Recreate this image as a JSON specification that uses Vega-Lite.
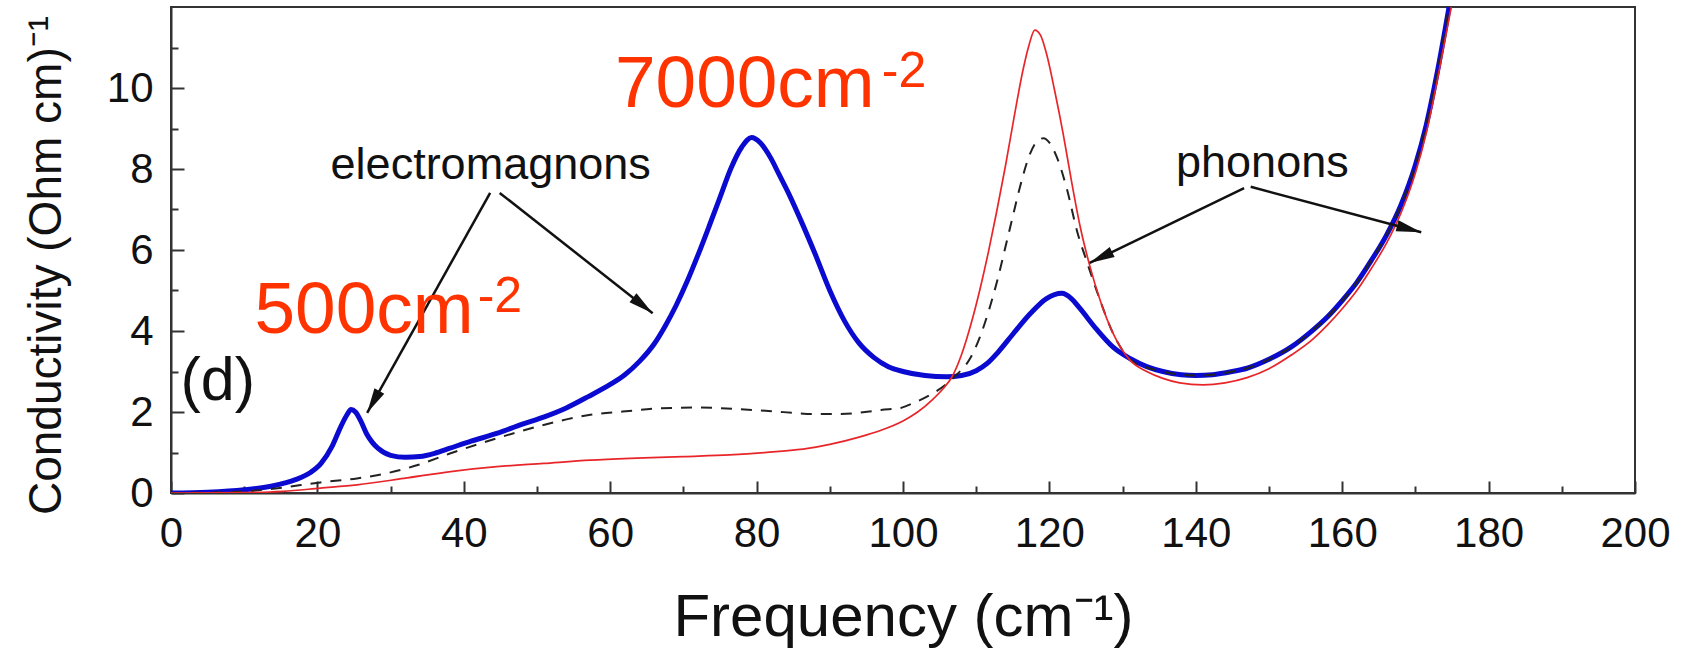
{
  "$schema": "https://vega.github.io/schema/vega-lite/v6.json",
  "width": 1464,
  "height": 486,
  "autosize": {"type": "none"},
  "padding": {"left": 171, "top": 7, "right": 51, "bottom": 162},
  "background": "white",
  "config": {
    "view": {"stroke": "#333", "strokeWidth": 2},
    "font": "Liberation Sans",
    "axis": {"grid": false, "domainColor": "#333", "domainWidth": 2, "tickColor": "#333", "tickWidth": 2, "labelFont": "Liberation Sans", "titleFont": "Liberation Sans", "labelColor": "#111", "titleColor": "#111", "titleFontWeight": "normal", "labelFlush": false}
  },
  "datasets": {
    "blue": [
      {"f":0,"s":0},{"f":5,"s":0.02},{"f":10,"s":0.08},{"f":14,"s":0.18},{"f":17,"s":0.33},{"f":19,"s":0.5},{"f":20.5,"s":0.73},{"f":22,"s":1.15},{"f":23.2,"s":1.64},{"f":24,"s":1.92},{"f":24.6,"s":2.06},{"f":25.2,"s":2.0},{"f":26,"s":1.75},{"f":26.7,"s":1.47},{"f":27.5,"s":1.25},{"f":28.3,"s":1.1},{"f":30,"s":0.93},{"f":32,"s":0.88},{"f":34,"s":0.9},{"f":36,"s":0.98},{"f":38,"s":1.1},{"f":41,"s":1.28},{"f":44.5,"s":1.47},{"f":48,"s":1.7},{"f":51,"s":1.88},{"f":54,"s":2.1},{"f":57,"s":2.38},{"f":60,"s":2.68},{"f":62,"s":2.92},{"f":64,"s":3.25},{"f":66,"s":3.68},{"f":67.5,"s":4.12},{"f":69,"s":4.63},{"f":70.5,"s":5.22},{"f":72,"s":5.88},{"f":73.5,"s":6.58},{"f":75,"s":7.3},{"f":76.5,"s":8.02},{"f":78,"s":8.55},{"f":79.3,"s":8.78},{"f":80.5,"s":8.65},{"f":82,"s":8.25},{"f":83,"s":7.89},{"f":84.5,"s":7.35},{"f":86,"s":6.75},{"f":88,"s":5.9},{"f":90,"s":5.0},{"f":92,"s":4.25},{"f":94,"s":3.7},{"f":96,"s":3.35},{"f":98,"s":3.12},{"f":100,"s":3.0},{"f":103,"s":2.9},{"f":106,"s":2.87},{"f":108,"s":2.9},{"f":110,"s":3.02},{"f":111.5,"s":3.2},{"f":113,"s":3.48},{"f":115,"s":3.92},{"f":117.4,"s":4.43},{"f":119.6,"s":4.8},{"f":121.7,"s":4.93},{"f":123,"s":4.8},{"f":124.2,"s":4.55},{"f":126.4,"s":4.05},{"f":128.7,"s":3.6},{"f":131,"s":3.32},{"f":133.3,"s":3.12},{"f":135.5,"s":3.0},{"f":138,"s":2.92},{"f":140,"s":2.9},{"f":142.3,"s":2.92},{"f":145,"s":3.0},{"f":147,"s":3.08},{"f":150,"s":3.3},{"f":153,"s":3.6},{"f":156,"s":4.02},{"f":158,"s":4.35},{"f":160,"s":4.75},{"f":162,"s":5.2},{"f":164,"s":5.75},{"f":166,"s":6.35},{"f":168,"s":7.1},{"f":170,"s":8.1},{"f":171.5,"s":9.1},{"f":173,"s":10.4},{"f":174.6,"s":12}
    ],
    "red": [
      {"f":0,"s":0},{"f":10,"s":0.01},{"f":15.3,"s":0.04},{"f":20.4,"s":0.12},{"f":25.4,"s":0.2},{"f":31.8,"s":0.36},{"f":38.2,"s":0.53},{"f":44.5,"s":0.65},{"f":50.9,"s":0.73},{"f":57.3,"s":0.81},{"f":63.6,"s":0.86},{"f":70,"s":0.9},{"f":76.3,"s":0.94},{"f":82.7,"s":1.02},{"f":87,"s":1.1},{"f":90,"s":1.2},{"f":94,"s":1.38},{"f":97,"s":1.55},{"f":100,"s":1.78},{"f":102,"s":2.0},{"f":104,"s":2.3},{"f":105.5,"s":2.58},{"f":106.7,"s":2.87},{"f":108,"s":3.42},{"f":109.3,"s":4.18},{"f":110.5,"s":5.02},{"f":111.7,"s":5.98},{"f":112.8,"s":6.95},{"f":114,"s":8.08},{"f":115.1,"s":9.2},{"f":116.4,"s":10.45},{"f":117.2,"s":11.05},{"f":118,"s":11.43},{"f":118.8,"s":11.3},{"f":119.6,"s":10.85},{"f":120.7,"s":9.95},{"f":121.9,"s":8.85},{"f":123,"s":7.72},{"f":124.2,"s":6.58},{"f":125.5,"s":5.62},{"f":127,"s":4.72},{"f":128.7,"s":3.94},{"f":131,"s":3.28},{"f":133.3,"s":3.0},{"f":135.5,"s":2.83},{"f":137.8,"s":2.72},{"f":141,"s":2.67},{"f":144,"s":2.72},{"f":147,"s":2.85},{"f":150,"s":3.07},{"f":153,"s":3.4},{"f":156,"s":3.8},{"f":158,"s":4.15},{"f":160,"s":4.55},{"f":162,"s":5.0},{"f":164,"s":5.55},{"f":166,"s":6.15},{"f":168,"s":6.9},{"f":170,"s":7.9},{"f":171.5,"s":8.9},{"f":173,"s":10.2},{"f":174.9,"s":12}
    ],
    "dashed": [
      {"f":0,"s":0},{"f":5,"s":0.01},{"f":10,"s":0.04},{"f":14.6,"s":0.12},{"f":20.4,"s":0.26},{"f":25.4,"s":0.36},{"f":29.3,"s":0.48},{"f":33.7,"s":0.69},{"f":38.2,"s":0.98},{"f":44.5,"s":1.35},{"f":50.9,"s":1.68},{"f":57.3,"s":1.93},{"f":61.7,"s":2.01},{"f":66.8,"s":2.09},{"f":71.9,"s":2.11},{"f":77.6,"s":2.07},{"f":82.7,"s":2.01},{"f":85,"s":1.98},{"f":87.8,"s":1.95},{"f":91,"s":1.95},{"f":95.4,"s":2.01},{"f":97,"s":2.05},{"f":99.7,"s":2.1},{"f":101.4,"s":2.22},{"f":103.7,"s":2.42},{"f":106,"s":2.7},{"f":107.5,"s":2.95},{"f":109.1,"s":3.3},{"f":110.5,"s":3.85},{"f":111.8,"s":4.55},{"f":113,"s":5.33},{"f":114,"s":6.08},{"f":115,"s":6.83},{"f":115.9,"s":7.5},{"f":117.3,"s":8.35},{"f":118.3,"s":8.68},{"f":119.2,"s":8.76},{"f":120,"s":8.65},{"f":121,"s":8.3},{"f":122.4,"s":7.5},{"f":123.8,"s":6.45},{"f":125.1,"s":5.72},{"f":127,"s":4.72},{"f":128.7,"s":3.94},{"f":131,"s":3.3},{"f":133.3,"s":3.1},{"f":135.5,"s":3.0},{"f":138,"s":2.92},{"f":140,"s":2.9},{"f":142.3,"s":2.92},{"f":145,"s":3.0},{"f":147,"s":3.08},{"f":150,"s":3.3},{"f":153,"s":3.6},{"f":156,"s":4.02},{"f":158,"s":4.35},{"f":160,"s":4.75},{"f":162,"s":5.2},{"f":164,"s":5.75},{"f":166,"s":6.35},{"f":168,"s":7.1},{"f":170,"s":8.1},{"f":171.5,"s":9.1},{"f":173,"s":10.4},{"f":174.6,"s":12}
    ],
    "arrows": [
      {"x":43.6,"y":7.41,"x2":26.8,"y2":1.98},
      {"x":44.9,"y":7.41,"x2":65.8,"y2":4.44},
      {"x":146.6,"y":7.53,"x2":125.5,"y2":5.68},
      {"x":147.5,"y":7.56,"x2":170.8,"y2":6.44}
    ]
  },
  "layer": [
    {
      "data": {"name": "blue"},
      "mark": {"type": "line", "color": "#0a0ad0", "strokeWidth": 5, "interpolate": "monotone", "clip": true},
      "encoding": {
        "x": {"field": "f", "type": "quantitative", "scale": {"domain": [0, 200], "nice": false, "zero": false},
          "axis": {"orient": "bottom", "values": [0,20,40,60,80,100,120,140,160,180,200], "tickSize": -12, "labelPadding": 32, "labelFontSize": 42, "title": "Frequency (cm⁻¹)", "titleFontSize": 60, "titlePadding": 34}},
        "y": {"field": "s", "type": "quantitative", "scale": {"domain": [0, 12], "nice": false, "zero": false},
          "axis": {"orient": "left", "values": [0,2,4,6,8,10], "tickSize": -13, "labelPadding": 31, "labelFontSize": 42, "title": "Conductivity (Ohm cm)⁻¹", "titleFontSize": 46, "titlePadding": 36, "titleY": 258}}
      }
    },
    {
      "data": {"name": "dashed"},
      "mark": {"type": "line", "color": "#222222", "strokeWidth": 2, "strokeDash": [11, 9], "interpolate": "monotone", "clip": true},
      "encoding": {
        "x": {"field": "f", "type": "quantitative", "scale": {"domain": [0, 200], "nice": false, "zero": false},
          "axis": {"orient": "bottom", "values": [10,30,50,70,90,110,130,150,170,190], "tickSize": -7, "labels": false, "domain": false, "title": null}},
        "y": {"field": "s", "type": "quantitative", "scale": {"domain": [0, 12], "nice": false, "zero": false},
          "axis": {"orient": "left", "values": [1,3,5,7,9,11], "tickSize": -7, "labels": false, "domain": false, "title": null}}
      }
    },
    {
      "data": {"name": "red"},
      "mark": {"type": "line", "color": "#e8262a", "strokeWidth": 1.7, "interpolate": "monotone", "clip": true},
      "encoding": {
        "x": {"field": "f", "type": "quantitative", "scale": {"domain": [0, 200], "nice": false, "zero": false}, "axis": null},
        "y": {"field": "s", "type": "quantitative", "scale": {"domain": [0, 12], "nice": false, "zero": false}, "axis": null}
      }
    },
    {
      "data": {"name": "arrows"},
      "mark": {"type": "rule", "color": "#111111", "strokeWidth": 2.5},
      "encoding": {
        "x": {"field": "x", "type": "quantitative", "scale": {"domain": [0, 200], "nice": false, "zero": false}, "axis": null},
        "y": {"field": "y", "type": "quantitative", "scale": {"domain": [0, 12], "nice": false, "zero": false}, "axis": null},
        "x2": {"field": "x2"},
        "y2": {"field": "y2"}
      }
    },
    {
      "data": {"values": [{"x": 26.8, "y": 1.98}]},
      "mark": {"type": "point", "shape": "M0,0L0.45,2L-0.45,2Z", "filled": true, "color": "#111111", "opacity": 1, "size": 625, "angle": 209.2},
      "encoding": {
        "x": {"field": "x", "type": "quantitative", "scale": {"domain": [0, 200], "nice": false, "zero": false}, "axis": null},
        "y": {"field": "y", "type": "quantitative", "scale": {"domain": [0, 12], "nice": false, "zero": false}, "axis": null}
      }
    },
    {
      "data": {"values": [{"x": 65.8, "y": 4.44}]},
      "mark": {"type": "point", "shape": "M0,0L0.45,2L-0.45,2Z", "filled": true, "color": "#111111", "opacity": 1, "size": 625, "angle": 128.2},
      "encoding": {
        "x": {"field": "x", "type": "quantitative", "scale": {"domain": [0, 200], "nice": false, "zero": false}, "axis": null},
        "y": {"field": "y", "type": "quantitative", "scale": {"domain": [0, 12], "nice": false, "zero": false}, "axis": null}
      }
    },
    {
      "data": {"values": [{"x": 125.5, "y": 5.68}]},
      "mark": {"type": "point", "shape": "M0,0L0.45,2L-0.45,2Z", "filled": true, "color": "#111111", "opacity": 1, "size": 625, "angle": 244.1},
      "encoding": {
        "x": {"field": "x", "type": "quantitative", "scale": {"domain": [0, 200], "nice": false, "zero": false}, "axis": null},
        "y": {"field": "y", "type": "quantitative", "scale": {"domain": [0, 12], "nice": false, "zero": false}, "axis": null}
      }
    },
    {
      "data": {"values": [{"x": 170.8, "y": 6.44}]},
      "mark": {"type": "point", "shape": "M0,0L0.45,2L-0.45,2Z", "filled": true, "color": "#111111", "opacity": 1, "size": 625, "angle": 104.9},
      "encoding": {
        "x": {"field": "x", "type": "quantitative", "scale": {"domain": [0, 200], "nice": false, "zero": false}, "axis": null},
        "y": {"field": "y", "type": "quantitative", "scale": {"domain": [0, 12], "nice": false, "zero": false}, "axis": null}
      }
    },
    {
      "data": {"values": [{"x": 21.8, "y": 7.75, "t": "electromagnons"}]},
      "mark": {"type": "text", "align": "left", "baseline": "alphabetic", "fontSize": 45, "color": "#111111", "font": "Liberation Sans"},
      "encoding": {
        "x": {"field": "x", "type": "quantitative", "scale": {"domain": [0, 200], "nice": false, "zero": false}, "axis": null},
        "y": {"field": "y", "type": "quantitative", "scale": {"domain": [0, 12], "nice": false, "zero": false}, "axis": null},
        "text": {"field": "t"}
      }
    },
    {
      "data": {"values": [{"x": 137.3, "y": 7.8, "t": "phonons"}]},
      "mark": {"type": "text", "align": "left", "baseline": "alphabetic", "fontSize": 45, "color": "#111111", "font": "Liberation Sans"},
      "encoding": {
        "x": {"field": "x", "type": "quantitative", "scale": {"domain": [0, 200], "nice": false, "zero": false}, "axis": null},
        "y": {"field": "y", "type": "quantitative", "scale": {"domain": [0, 12], "nice": false, "zero": false}, "axis": null},
        "text": {"field": "t"}
      }
    },
    {
      "data": {"values": [{"x": 1.3, "y": 2.3, "t": "(d)"}]},
      "mark": {"type": "text", "align": "left", "baseline": "alphabetic", "fontSize": 61, "color": "#111111", "font": "Liberation Sans"},
      "encoding": {
        "x": {"field": "x", "type": "quantitative", "scale": {"domain": [0, 200], "nice": false, "zero": false}, "axis": null},
        "y": {"field": "y", "type": "quantitative", "scale": {"domain": [0, 12], "nice": false, "zero": false}, "axis": null},
        "text": {"field": "t"}
      }
    },
    {
      "data": {"values": [{"x": 11.4, "y": 3.95, "t": "500cm"}, {"x": 60.65, "y": 9.53, "t": "7000cm"}]},
      "mark": {"type": "text", "align": "left", "baseline": "alphabetic", "fontSize": 73, "color": "#ff3300", "font": "Liberation Sans"},
      "encoding": {
        "x": {"field": "x", "type": "quantitative", "scale": {"domain": [0, 200], "nice": false, "zero": false}, "axis": null},
        "y": {"field": "y", "type": "quantitative", "scale": {"domain": [0, 12], "nice": false, "zero": false}, "axis": null},
        "text": {"field": "t"}
      }
    },
    {
      "data": {"values": [{"x": 41.9, "y": 4.47, "t": "-2"}, {"x": 97.1, "y": 10.02, "t": "-2"}]},
      "mark": {"type": "text", "align": "left", "baseline": "alphabetic", "fontSize": 50, "color": "#ff3300", "font": "Liberation Sans"},
      "encoding": {
        "x": {"field": "x", "type": "quantitative", "scale": {"domain": [0, 200], "nice": false, "zero": false}, "axis": null},
        "y": {"field": "y", "type": "quantitative", "scale": {"domain": [0, 12], "nice": false, "zero": false}, "axis": null},
        "text": {"field": "t"}
      }
    }
  ],
  "resolve": {"axis": {"x": "independent", "y": "independent"}}
}
